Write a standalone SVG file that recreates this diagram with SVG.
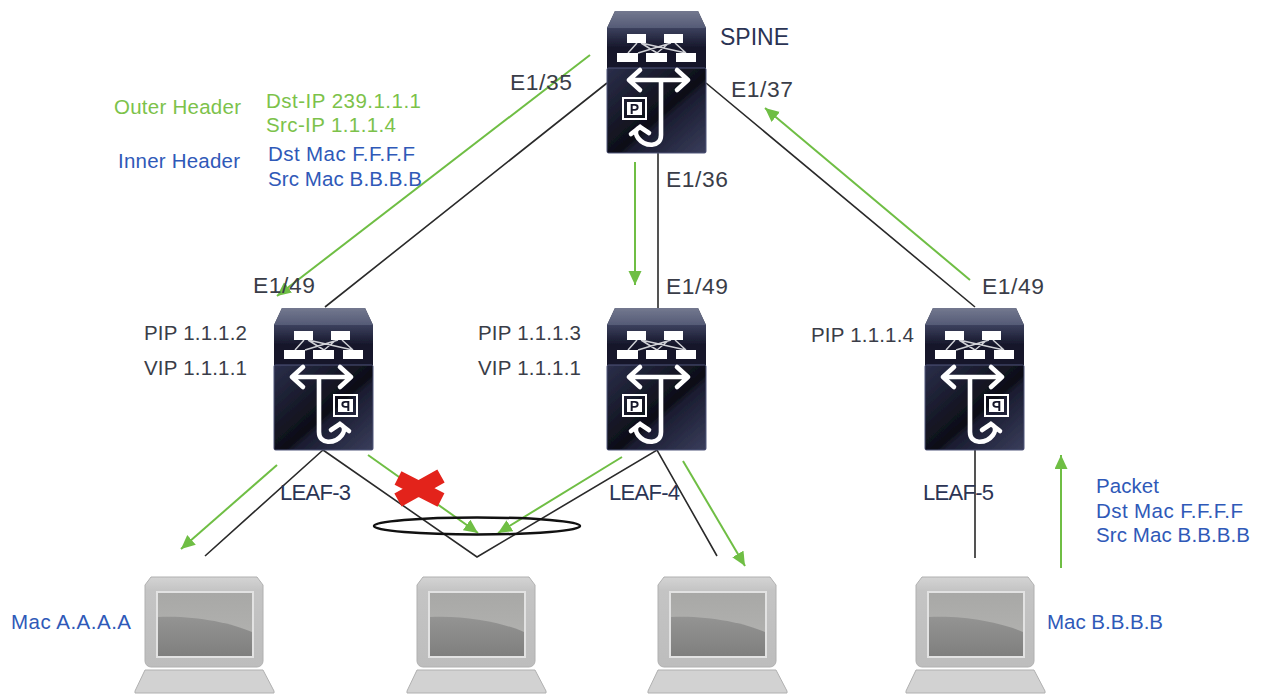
<svg xmlns="http://www.w3.org/2000/svg" width="1263" height="695" viewBox="0 0 1263 695">
<style>
text{font-family:"Liberation Sans",Arial,sans-serif;font-size:20.5px}
.d{fill:#3a3d48}.n{fill:#2b3454}.g{fill:#7cc24a}.b{fill:#2f59b8}
.e{font-size:22.800px}.s{font-size:23px}.l{font-size:22px}
.k{stroke:#2a2a2a;stroke-width:1.600;fill:none}
.a{stroke:#6fbe44;stroke-width:2;fill:none;marker-end:url(#ah)}
.i{fill:none;stroke:#fff;stroke-width:4.600;stroke-linecap:round;stroke-linejoin:round}
.w{fill:#fff}
</style>
<defs>
<marker id="ah" markerUnits="userSpaceOnUse" markerWidth="16" markerHeight="14" refX="14" refY="6.500" orient="auto"><path d="M0 0L14 6.500L0 13z" fill="#6fbe44"/></marker>
<filter id="soft" x="-5%" y="-5%" width="110%" height="110%"><feGaussianBlur stdDeviation="0.600"/></filter>
<linearGradient id="top" x1="0" y1="0" x2="0" y2="1"><stop offset="0" stop-color="#73788f"/><stop offset="1" stop-color="#555b76"/></linearGradient>
<linearGradient id="up" x1="0" y1="0" x2="0" y2="1"><stop offset="0" stop-color="#3c415e"/><stop offset=".5" stop-color="#15162a"/><stop offset="1" stop-color="#14152a"/></linearGradient>
<linearGradient id="lo" x1="0" y1="0" x2="1" y2="1"><stop offset="0" stop-color="#2b2f4b"/><stop offset=".55" stop-color="#0c0d16"/><stop offset=".6" stop-color="#1a1c30"/><stop offset="1" stop-color="#3a3e5c"/></linearGradient>
<linearGradient id="ls" x1="0" y1="0" x2="0" y2="1"><stop offset="0" stop-color="#d4d4d4"/><stop offset=".15" stop-color="#c4c4c4"/><stop offset="1" stop-color="#bdbdbd"/></linearGradient>
<linearGradient id="sc" x1="0" y1="0" x2="0" y2="1"><stop offset="0" stop-color="#a8a8a6"/><stop offset="1" stop-color="#b5b5b3"/></linearGradient>
<linearGradient id="sd" x1="0" y1="0" x2="0" y2="1"><stop offset="0" stop-color="#949493"/><stop offset="1" stop-color="#7f7f7e"/></linearGradient>
<g id="chassis" filter="url(#soft)">
<path d="M8 0H91L99 17V140a2 2 0 0 1-2 2H2a2 2 0 0 1-2-2V17z" fill="#23263c"/>
<path d="M8 0H91L99 17H0z" fill="url(#top)"/>
<rect x="0" y="17" width="99" height="40" fill="url(#up)"/>
<rect x="0" y="57" width="99" height="85" rx="1.500" fill="url(#lo)" stroke="#50567a" stroke-width="1"/>
<g stroke="#d0d1d6" stroke-width="1.500" fill="none"><path d="M21 42L30 32M31 42L64 32M50 42L34 32M50 42L62 32M79 42L68 32M79 42L34 32"/></g>
<path class="w" d="M20 23H39V32H20zM57 23H76V32H57zM10 42H31V51H10zM39 42H60V51H39zM69 42H89V51H69z"/>
</g>
<g id="glyph" filter="url(#soft)">
<path class="i" d="M22 69H81M22 69L33 59M22 69L33 79M81 69L70 59M81 69L70 79M54 69V124C54 137 38 136 31 127C27 121 29 118 33 116M33 116L24 123M33 116L42 122"/>
<rect x="16" y="87" width="23" height="21" fill="none" stroke="#fff" stroke-width="2"/>
<rect x="20" y="91" width="15" height="13" fill="#fff"/>
<text x="27.500" y="103" text-anchor="middle" style="font-size:14px;font-weight:bold;fill:#15172a">P</text>
</g>
<g id="laptop" filter="url(#soft)">
<path d="M151 577H257L263 585V661a6 6 0 0 1-6 6H151a6 6 0 0 1-6-6V585z" fill="url(#ls)" stroke="#b0b0b0"/>
<rect x="157" y="592" width="96" height="65" fill="url(#sc)" stroke="#e2e2e2" stroke-width="2"/>
<path d="M158 617C190 615 230 622 252 632V656H158z" fill="url(#sd)"/>
<path d="M145 670H263L274 691V693H135V691z" fill="#d2d2d2" stroke="#b0b0b0"/>
</g>
</defs>
<rect width="1263" height="695" fill="#fff"/>
<g id="connectors">
<path class="k" d="M607 83L325 307M658 153V308M706 83L975 307M323 450L205 556M323 450L477 557L657 450L717 556M975 450V558"/>
<path class="a" d="M590 55L277 296"/>
<path class="a" d="M635 162V285"/>
<path class="a" d="M970 280L765 108"/>
<path class="a" d="M277 465L181 549"/>
<path class="a" d="M368 455L478 533"/>
<path class="a" d="M622 457L498 533"/>
<path class="a" d="M683 461L745 566"/>
<path class="a" d="M1061 568V455"/>
</g>
<ellipse id="ellipse" cx="477" cy="526" rx="103" ry="8.500" fill="none" stroke="#111" stroke-width="2.500"/>
<path id="cross" d="M398 478L441 500M441 476L398 500" stroke="#e3231b" stroke-width="15" fill="none"/>
<g id="spine"><use href="#chassis" x="607" y="11"/><use href="#glyph" x="607" y="11"/><text class="n s" x="720" y="45">SPINE</text></g>
<g id="leaf3"><use href="#chassis" x="274" y="308"/><use href="#glyph" transform="translate(373 308) scale(-1 1)"/><text class="n l" x="280" y="500" textLength="71">LEAF-3</text></g>
<g id="leaf4"><use href="#chassis" x="607" y="308"/><use href="#glyph" x="607" y="308"/><text class="n l" x="609" y="500" textLength="71">LEAF-4</text></g>
<g id="leaf5"><use href="#chassis" x="925" y="308"/><use href="#glyph" transform="translate(1024 308) scale(-1 1)"/><text class="n l" x="923" y="500" textLength="71">LEAF-5</text></g>
<g id="laptop1"><use href="#laptop"/></g>
<g id="laptop2"><use href="#laptop" x="272"/></g>
<g id="laptop3"><use href="#laptop" x="513"/></g>
<g id="laptop4"><use href="#laptop" x="771"/></g>
<g id="labels">
<text class="d e" x="510" y="90" textLength="62">E1/35</text>
<text class="d e" x="731" y="97" textLength="62">E1/37</text>
<text class="d e" x="666" y="187" textLength="62">E1/36</text>
<text class="d e" x="253" y="293" textLength="62">E1/49</text>
<text class="d e" x="666" y="294" textLength="62">E1/49</text>
<text class="d e" x="982" y="294" textLength="62">E1/49</text>
<text class="d" x="144" y="340" textLength="103">PIP 1.1.1.2</text>
<text class="d" x="144" y="375" textLength="103">VIP 1.1.1.1</text>
<text class="d" x="478" y="340" textLength="103">PIP 1.1.1.3</text>
<text class="d" x="478" y="375" textLength="103">VIP 1.1.1.1</text>
<text class="d" x="811" y="342" textLength="103">PIP 1.1.1.4</text>
<text class="g" x="114" y="114" textLength="127">Outer Header</text>
<text class="g" x="266" y="108" textLength="155">Dst-IP 239.1.1.1</text>
<text class="g" x="266" y="132" textLength="130">Src-IP 1.1.1.4</text>
<text class="b" x="118" y="168" textLength="122">Inner Header</text>
<text class="b" x="268" y="161" textLength="147">Dst Mac F.F.F.F</text>
<text class="b" x="268" y="186" textLength="154">Src Mac B.B.B.B</text>
<text class="b" x="1096" y="493" textLength="63">Packet</text>
<text class="b" x="1096" y="518" textLength="147">Dst Mac F.F.F.F</text>
<text class="b" x="1096" y="542" textLength="154">Src Mac B.B.B.B</text>
<text class="b" x="11" y="629" textLength="120">Mac A.A.A.A</text>
<text class="b" x="1047" y="629" textLength="116">Mac B.B.B.B</text>
</g>
</svg>
